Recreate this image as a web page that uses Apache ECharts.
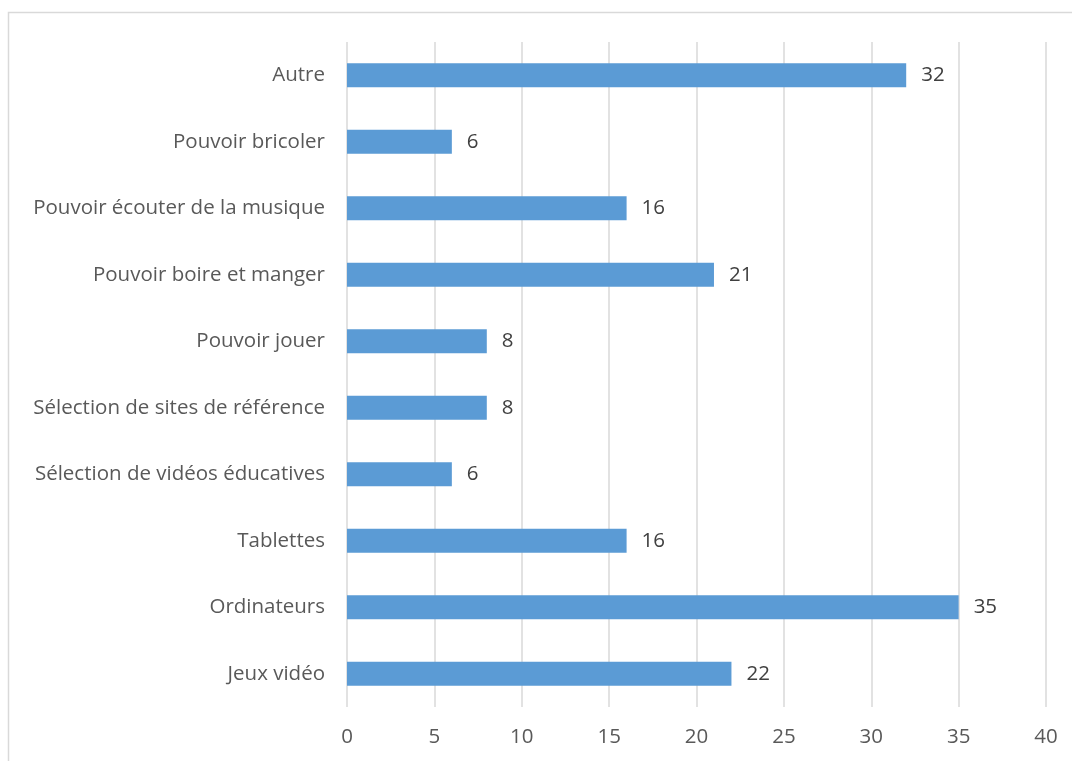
<!DOCTYPE html>
<html>
<head>
<meta charset="utf-8">
<script src="https://cdn.jsdelivr.net/npm/echarts@6/dist/echarts.min.js"></script>
<style>
  html, body { margin: 0; padding: 0; background: #fff; }
  #chart { width: 1072px; height: 761px; }
</style>
</head>
<body>
<div id="chart"></div>
<script>
  // bottom to top, as the category axis draws them
  const categories = [
    'Jeux vidéo',
    'Ordinateurs',
    'Tablettes',
    'Sélection de vidéos éducatives',
    'Sélection de sites de référence',
    'Pouvoir jouer',
    'Pouvoir boire et manger',
    'Pouvoir écouter de la musique',
    'Pouvoir bricoler',
    'Autre'
  ];
  const values = [22, 35, 16, 6, 8, 8, 21, 16, 6, 32];
  const xTicks = { min: 0, max: 40, step: 5 };

  const chart = echarts.init(document.getElementById('chart'));
  const font = '"Open Sans", sans-serif';

  chart.setOption({
    animation: false,
    graphic: [{
      type: 'rect',
      shape: { x: 8.5, y: 12.5, width: 1200, height: 900 },
      style: { fill: 'none', stroke: '#d9d9d9', lineWidth: 1.5 },
      silent: true
    }],
    grid: { left: 347, right: 26, top: 42, bottom: 54 },
    xAxis: {
      type: 'value',
      min: xTicks.min,
      max: xTicks.max,
      interval: xTicks.step,
      axisLine: { show: false },
      axisTick: { show: false },
      splitLine: { lineStyle: { color: '#d9d9d9', width: 1.5 } },
      axisLabel: { color: '#595959', fontFamily: font, fontSize: 20.5, margin: 20 }
    },
    yAxis: {
      type: 'category',
      data: categories,
      axisLine: { show: false },
      axisTick: { show: false },
      axisLabel: { color: '#595959', fontFamily: font, fontSize: 20.5, margin: 22 }
    },
    series: [{
      type: 'bar',
      data: values,
      barWidth: 24,
      itemStyle: { color: '#5b9bd5' },
      label: {
        show: true,
        position: 'right',
        distance: 15,
        color: '#404040',
        fontFamily: font,
        fontSize: 20.5
      }
    }]
  });
</script>
</body>
</html>
